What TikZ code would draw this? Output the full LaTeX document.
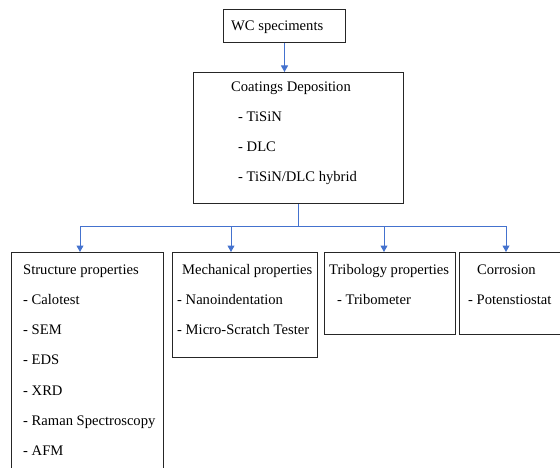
\documentclass[tikz,border=0pt]{standalone}
\usepackage{fontspec}
\setmainfont{Liberation Serif}
\usetikzlibrary{arrows.meta}
\definecolor{linkblue}{RGB}{68,114,206}

\begin{document}
\begin{tikzpicture}[
    x=1pt,y=-1pt,
    box/.style={draw=black!85,line width=1pt,inner sep=0pt,anchor=north west},
    txt/.style={anchor=base west,inner sep=0pt,font=\fontsize{14.6}{16}\selectfont},
    link/.style={draw=linkblue,line width=1pt},
    arrow/.style={link,-{Triangle[length=6.5pt,width=7pt]}}
]
\clip (0,0) rectangle (560,468);

% boxes
\node[box,minimum width=122pt,minimum height=33pt] (ws) at (223,9) {};
\node[box,minimum width=210pt,minimum height=131pt] (cd) at (193,72) {};
\node[box,minimum width=152pt,minimum height=230pt] (sp) at (11,252) {};
\node[box,minimum width=145pt,minimum height=105pt] (mp) at (172,252) {};
\node[box,minimum width=131pt,minimum height=82pt] (tp) at (324,252) {};
\node[box,minimum width=110pt,minimum height=82pt] (co) at (459,252) {};

% texts
\node[txt] (ws-t) at (231,31) {WC speciments};
\node[txt] (cd-t) at (231,92) {Coatings Deposition};
\foreach \t [count=\i] in {TiSiN,DLC,{TiSiN/DLC hybrid}}
  \node[txt] (cd-\i) at (238,92+30*\i) {- \t};

\node[txt] (sp-t) at (23,274) {Structure properties};
\foreach \t [count=\i] in {Calotest,SEM,EDS,XRD,Raman Spectroscopy,AFM}
  \node[txt] (sp-\i) at (23,274+30.3*\i) {- \t};

\node[txt] (mp-t) at (182,274) {Mechanical properties};
\foreach \t [count=\i] in {Nanoindentation,Micro-Scratch Tester}
  \node[txt] (mp-\i) at (177,274+30.3*\i) {- \t};

\node[txt] (tp-t) at (329,274) {Tribology properties};
\node[txt] (tp-1) at (337,304) {- Tribometer};

\node[txt] (co-t) at (477,274) {Corrosion};
\node[txt] (co-1) at (468,304) {- Potenstiostat};

% connectors
\draw[arrow] (ws.south) -- (ws.south |- cd.north);
\coordinate (bus) at (cd.south |- 0,226);
\coordinate (busL) at (80,226);
\coordinate (busR) at (506,226);
\draw[link] (cd.south) -- (bus);
\draw[link] (busL) -- (busR);
\foreach \b/\x in {sp/80,mp/231,tp/384,co/506}
  \draw[arrow] (\x,226) -- (\x,0 |- \b.north);
\end{tikzpicture}
\end{document}
